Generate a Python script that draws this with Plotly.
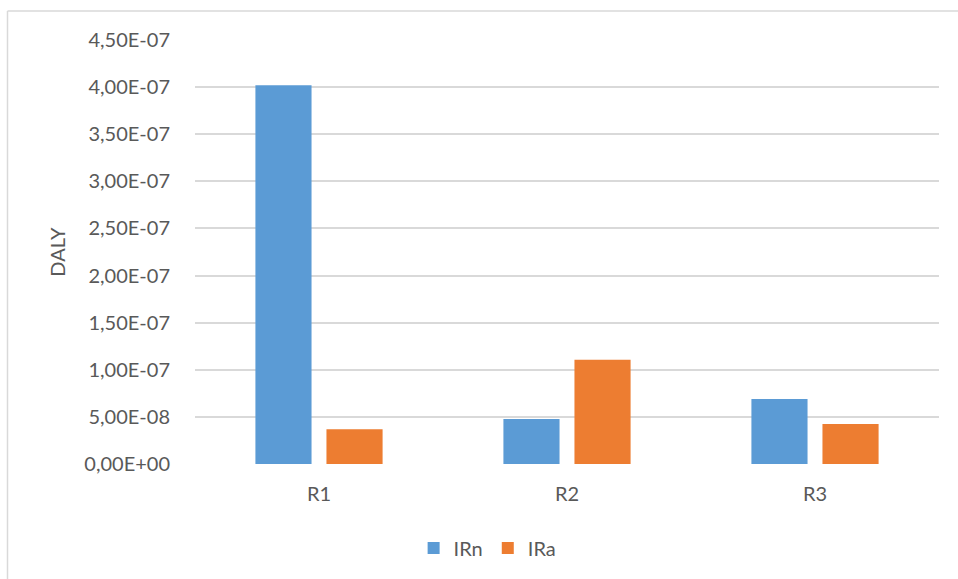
import plotly.graph_objects as go

# Data
categories = ["R1", "R2", "R3"]
irn_values = [4.02e-07, 4.78e-08, 6.90e-08]
ira_values = [3.70e-08, 1.107e-07, 4.25e-08]
y_tick_values = [0, 5e-08, 1e-07, 1.5e-07, 2e-07, 2.5e-07, 3e-07, 3.5e-07, 4e-07, 4.5e-07]
y_tick_labels = ["0,00E+00", "5,00E-08", "1,00E-07", "1,50E-07", "2,00E-07",
                 "2,50E-07", "3,00E-07", "3,50E-07", "4,00E-07", "4,50E-07"]

W, H = 958, 579
ML, MR, MT, MB = 195, 19, 40, 115
plot_w = W - ML - MR
plot_h = H - MT - MB

text_color = "#595959"
font_family = "Lato, 'Open Sans', sans-serif"
fs = 20

fig = go.Figure()
fig.add_trace(go.Bar(name="IRn", x=categories, y=irn_values,
                     marker=dict(color="#5B9BD5", line=dict(width=0))))
fig.add_trace(go.Bar(name="IRa", x=categories, y=ira_values,
                     marker=dict(color="#ED7D31", line=dict(width=0))))

# light frame on the left and top edges of the chart area
fx = (7.5 - ML) / plot_w
fy = (H - MB - 11) / plot_h
frame = dict(type="line", xref="paper", yref="paper",
             line=dict(color="#D9D9D9", width=1.5))

fig.update_layout(
    width=W, height=H,
    margin=dict(l=ML, r=MR, t=MT, b=MB, pad=0, autoexpand=False),
    paper_bgcolor="white", plot_bgcolor="white",
    barmode="group", bargap=0.427, bargroupgap=0.21,
    font=dict(family=font_family, color=text_color, size=fs),
    showlegend=True,
    legend=dict(orientation="h", xref="container", yref="container",
                x=0.509, y=(H - 548) / H, xanchor="center", yanchor="middle",
                font=dict(size=fs, color=text_color), traceorder="normal",
                itemwidth=30, bgcolor="rgba(0,0,0,0)"),
    shapes=[
        dict(frame, x0=fx, x1=fx, y0=fy, y1=-1.0),
        dict(frame, x0=fx, x1=2.0, y0=fy, y1=fy),
    ],
    xaxis=dict(showgrid=False, showline=False, zeroline=False,
               ticks="", ticklabelstandoff=16,
               tickfont=dict(size=fs, color=text_color)),
    yaxis=dict(range=[0, 4.5e-07], tickmode="array",
               tickvals=y_tick_values, ticktext=y_tick_labels,
               showgrid=True, gridcolor="#D9D9D9", gridwidth=1.5,
               zeroline=False, showline=False, ticks="",
               ticklabelstandoff=24,
               tickfont=dict(size=fs, color=text_color),
               title=dict(text="DALY", standoff=13,
                          font=dict(size=fs, color=text_color))),
)

fig.write_html("out.html")
